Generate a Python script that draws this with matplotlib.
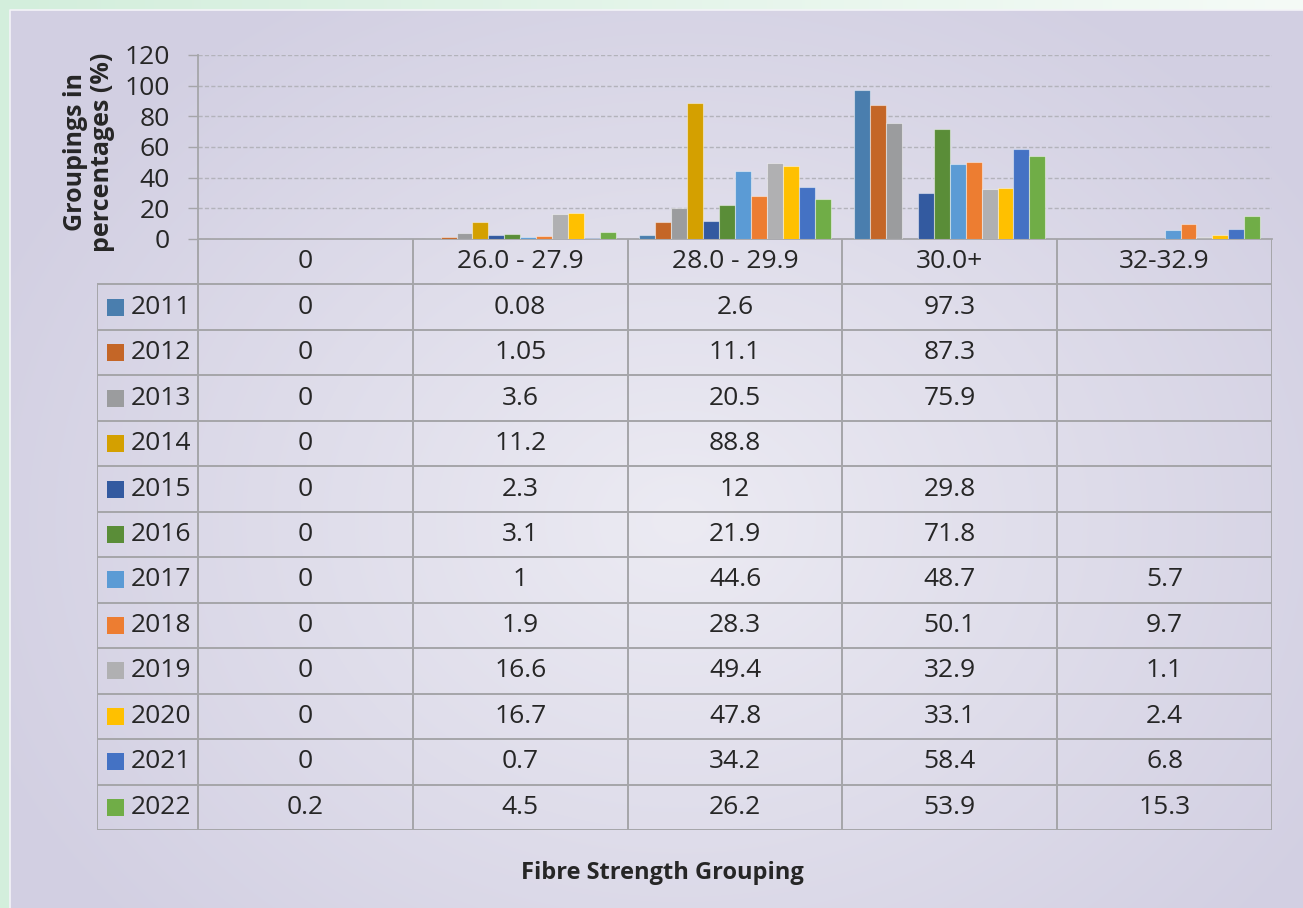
import numpy as np
import matplotlib
matplotlib.use("Agg")
import matplotlib.pyplot as plt
from matplotlib.patches import Rectangle

plt.rcParams['font.family'] = ['Open Sans', 'DejaVu Sans']

# ---- data -------------------------------------------------------------
categories = ["0", "26.0 - 27.9", "28.0 - 29.9", "30.0+", "32-32.9"]
years = ["2011", "2012", "2013", "2014", "2015", "2016",
         "2017", "2018", "2019", "2020", "2021", "2022"]
nan = np.nan
v2011 = [0, 0.08, 2.6, 97.3, nan]
v2012 = [0, 1.05, 11.1, 87.3, nan]
v2013 = [0, 3.6, 20.5, 75.9, nan]
v2014 = [0, 11.2, 88.8, nan, nan]
v2015 = [0, 2.3, 12, 29.8, nan]
v2016 = [0, 3.1, 21.9, 71.8, nan]
v2017 = [0, 1, 44.6, 48.7, 5.7]
v2018 = [0, 1.9, 28.3, 50.1, 9.7]
v2019 = [0, 16.6, 49.4, 32.9, 1.1]
v2020 = [0, 16.7, 47.8, 33.1, 2.4]
v2021 = [0, 0.7, 34.2, 58.4, 6.8]
v2022 = [0.2, 4.5, 26.2, 53.9, 15.3]
series = [v2011, v2012, v2013, v2014, v2015, v2016,
          v2017, v2018, v2019, v2020, v2021, v2022]
colors = ["#4a7eae", "#c46627", "#9b9c9e", "#d4a000", "#335aa0", "#5a8d38",
          "#5b9bd5", "#ed7d31", "#b0b0b2", "#ffc000", "#4472c4", "#70ad47"]
y_ticks = [0, 20, 40, 60, 80, 100, 120]

# ---- figure & background ---------------------------------------------
W, H = 1303, 908
fig = plt.figure(figsize=(W / 100, H / 100), dpi=100)


def fx(x):
    return x / W


def fy(y):
    return 1 - y / H


yy, xx = np.mgrid[0:H, 0:W].astype(float)
green_l = np.array([0xd3, 0xee, 0xdc]) / 255
green_r = np.array([0xf5, 0xfb, 0xf7]) / 255
tg = (xx / W)[..., None]
img = green_l * (1 - tg) + green_r * tg

light = np.array([0xec, 0xeb, 0xf3]) / 255
dark = np.array([0xd2, 0xcf, 0xe2]) / 255
t = np.clip(np.sqrt(((xx - 680) / 760) ** 2 + ((yy - 520) / 620) ** 2), 0, 1)[..., None]
panel = light * (1 - t) + dark * t
mask = (xx >= 10) & (yy >= 10)
img[mask] = panel[mask]

bg = fig.add_axes([0, 0, 1, 1], zorder=-5)
bg.imshow(img, extent=[0, W, H, 0], aspect="auto", interpolation="bilinear")
bg.plot([10, 10, W], [H, 10, 10], color="#f4f4f8", lw=1.2)
bg.set_xlim(0, W)
bg.set_ylim(H, 0)
bg.axis("off")

# ---- bar chart ---------------------------------------------------------
L, R, T, B = 198, 1272, 55, 239
ax = fig.add_axes([fx(L), fy(B), (R - L) / W, (B - T) / H])
ax.set_facecolor("none")
n = len(series)
bw = 0.0741
xc = np.arange(len(categories))
for i, vals in enumerate(series):
    ax.bar(xc + (i - (n - 1) / 2) * bw, vals, width=bw, color=colors[i],
           edgecolor=(1, 1, 1, 0.45), linewidth=0.8, zorder=3)

ax.set_xlim(-0.5, len(categories) - 0.5)
ax.set_ylim(0, 120)
ax.set_yticks(y_ticks)
ax.set_xticks([])
ax.yaxis.grid(True, linestyle=(0, (3, 1.6)), color="#b3b3bb", lw=1.0)
ax.set_axisbelow(True)
line_c = "#a5a5a9"
for s in ("top", "right"):
    ax.spines[s].set_visible(False)
for s in ("left", "bottom"):
    ax.spines[s].set_color(line_c)
    ax.spines[s].set_linewidth(1.3)
ax.tick_params(axis="y", length=7.2, width=1.0, color=line_c, pad=13,
               labelsize=19, labelcolor="#262626")

fig.text(fx(89), fy(152), "Groupings in\npercentages (%)", rotation=90,
         ha="center", va="center", multialignment="center",
         fontsize=18, fontweight="bold", color="#262626", linespacing=1.15)

# ---- data table --------------------------------------------------------
TL, TB = 97, 830
nrows = len(years) + 1
tab = fig.add_axes([fx(TL), fy(TB), (R - TL) / W, (TB - B) / H])
unit_x = (R - L) / len(categories)
unit_y = (TB - B) / nrows
legw = (L - TL) / unit_x
x0 = -0.5 - legw
tab.set_xlim(x0, len(categories) - 0.5)
tab.set_ylim(nrows, 0)
tab.axis("off")
tab.set_facecolor("none")

lw_t = 1.4
for r in range(1, nrows + 1):
    tab.plot([x0, len(categories) - 0.5], [r, r], color=line_c, lw=lw_t,
             solid_capstyle="butt")
tab.plot([x0, x0], [1, nrows], color=line_c, lw=lw_t)
for c in range(len(categories) + 1):
    tab.plot([c - 0.5, c - 0.5], [0, nrows], color=line_c, lw=lw_t)

txt_c = "#262626"
fs = 19
for j, cat in enumerate(categories):
    tab.text(j, 0.5, cat, ha="center", va="center", fontsize=fs, color=txt_c)

ksz = 17
for i, (yr, vals) in enumerate(zip(years, series)):
    yc = i + 1.5
    tab.add_patch(Rectangle((x0 + (107 - TL) / unit_x, yc - ksz / 2 / unit_y),
                            ksz / unit_x, ksz / unit_y, color=colors[i], lw=0))
    tab.text(x0 + (131 - TL) / unit_x, yc, yr, ha="left", va="center",
             fontsize=fs, color=txt_c)
    for j, v in enumerate(vals):
        if not np.isnan(v):
            tab.text(j, yc, f"{v:g}", ha="center", va="center",
                     fontsize=fs, color=txt_c)

fig.text(fx(662), fy(873), "Fibre Strength Grouping", ha="center", va="center",
         fontsize=17, fontweight="bold", color=txt_c)

fig.savefig("out.png", dpi=100)
